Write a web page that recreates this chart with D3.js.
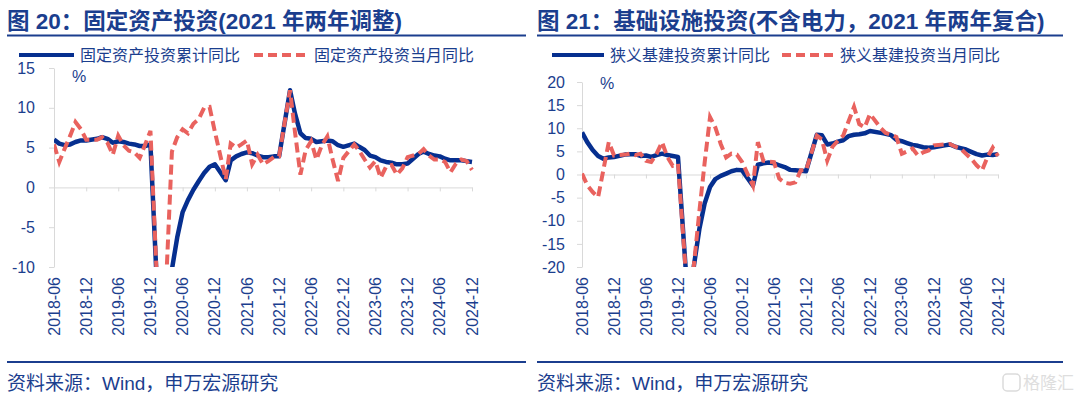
<!DOCTYPE html>
<html>
<head>
<meta charset="utf-8">
<script src="https://cdn.jsdelivr.net/npm/d3@7"></script>
<style>
  body { margin: 0; background: #fff; }
  svg { display: block; font-family: "Liberation Sans", "Noto Sans CJK SC", sans-serif; }
</style>
</head>
<body>
<svg id="chart" width="1080" height="398"></svg>
<script>
// months (no January data, Jan-Feb combined)
const dates = [
  "2018-06","2018-07","2018-08","2018-09","2018-10","2018-11","2018-12",
  "2019-02","2019-03","2019-04","2019-05","2019-06","2019-07","2019-08","2019-09","2019-10","2019-11","2019-12",
  "2020-02","2020-03","2020-04","2020-05","2020-06","2020-07","2020-08","2020-09","2020-10","2020-11","2020-12",
  "2021-02","2021-03","2021-04","2021-05","2021-06","2021-07","2021-08","2021-09","2021-10","2021-11","2021-12",
  "2022-02","2022-03","2022-04","2022-05","2022-06","2022-07","2022-08","2022-09","2022-10","2022-11","2022-12",
  "2023-02","2023-03","2023-04","2023-05","2023-06","2023-07","2023-08","2023-09","2023-10","2023-11","2023-12",
  "2024-02","2024-03","2024-04","2024-05","2024-06","2024-07","2024-08","2024-09","2024-10","2024-11","2024-12"
];

const xTicks = ["2018-06","2018-12","2019-06","2019-12","2020-06","2020-12","2021-06",
                "2021-12","2022-06","2022-12","2023-06","2023-12","2024-06","2024-12"];

// 图20 固定资产投资
const faiCum = [
  6.0, 5.5, 5.3, 5.4, 5.7, 5.9, 5.9,
  6.1, 6.3, 6.1, 5.6, 5.8, 5.7, 5.5, 5.4, 5.2, 5.2, 5.4,
  -24.5, -16.1, -10.3, -6.3, -3.1, -1.6, -0.3, 0.8, 1.8, 2.6, 2.9,
  0.9, 3.4, 3.9, 4.2, 4.4, 4.3, 4.0, 3.8, 3.8, 3.9, 3.9,
  12.2, 9.3, 6.8, 6.2, 6.1, 5.7, 5.8, 5.9, 5.8, 5.3, 5.1,
  5.5, 5.1, 4.7, 4.0, 3.8, 3.4, 3.2, 3.1, 2.9, 2.9, 3.0,
  4.2, 4.5, 4.2, 4.0, 3.9, 3.6, 3.4, 3.4, 3.4, 3.3, 3.2
];
const faiMonth = [
  5.4, 3.2, 4.9, 6.5, 8.2, 7.3, 6.0,
  6.0, 6.3, 5.6, 4.1, 6.5, 5.3, 4.6, 4.4, 3.7, 5.4, 7.1,
  -24.5, -11.0, 4.5, 6.3, 7.3, 6.8, 8.0, 8.6, 10.0, 10.1, 7.0,
  1.0, 5.5, 5.0, 5.4, 5.9, 2.9, 4.1, 2.9, 3.3, 3.8, 3.9,
  12.2, 7.0, 1.6, 4.7, 5.8, 3.5, 5.3, 6.4, 3.5, 0.8, 3.7,
  5.4, 4.6, 3.5, 2.5, 3.3, 1.2, 2.6, 2.8, 1.6, 2.4, 3.8,
  4.2, 4.8, 4.0, 3.5, 3.5, 3.2, 1.9, 3.0, 3.5, 3.3, 2.2
];

// 图21 基础设施投资(不含电力)
const infraCum = [
  9.1, 7.0, 5.3, 4.0, 3.4, 3.7, 3.8,
  4.3, 4.4, 4.4, 4.0, 4.1, 3.8, 4.2, 4.5, 4.2, 4.0, 3.8,
  -30.3, -19.7, -11.8, -6.3, -2.7, -1.0, -0.3, 0.2, 0.7, 1.0, 0.9,
  -2.4, 2.1, 2.4, 2.6, 2.4, 2.0, 1.6, 1.0, 0.9, 0.8, 0.7,
  8.6, 8.5, 6.5, 6.7, 7.1, 7.4, 8.3, 8.6, 8.7, 8.9, 9.4,
  9.0, 8.8, 8.5, 7.5, 7.2, 6.8, 6.4, 6.2, 5.9, 5.8, 5.9,
  6.3, 6.5, 6.0, 5.7, 5.4, 4.9, 4.4, 4.1, 4.3, 4.2, 4.4
];
const infraMonth = [
  0.2, -2.3, -3.8, -4.9, 1.0, 7.0, 4.1,
  4.3, 4.5, 4.2, 4.5, 3.0, 2.7, 4.5, 7.0, 3.8, 1.9, 2.3,
  -30.3, -19.5, -8.0, 2.5, 12.4, 10.2, 6.6, 3.7, 4.5, 4.3, 2.7,
  -2.4, 7.0, 3.0, 2.8, 2.7, -0.9, -1.8, -2.0, -1.7, 0.9, 0.9,
  8.4, 7.6, 3.0, 6.0, 7.3, 8.4, 11.5, 14.6, 10.9, 10.2, 13.1,
  10.0, 9.0, 8.6, 8.1, 4.5, 5.0, 5.6, 4.1, 4.8, 5.2, 6.3,
  6.5, 6.6, 6.0, 5.6, 4.5, 3.4, 2.0, 0.9, 3.7, 5.8, 4.0
];

const leftTicks = [-10, -5, 0, 5, 10, 15];
const rightTicks = [-20, -15, -10, -5, 0, 5, 10, 15, 20];

const BLUE = "#062f8f", RED = "#e9625e", TXT = "#1b3e8e", GRID = "#d9d9d9";
const parse = d3.timeParse("%Y-%m");
const svg = d3.select("#chart");

function panel(o) {
  const g = svg.append("g");

  // title + rule
  g.append("text")
    .attr("x", o.x0).attr("y", 29)
    .attr("font-size", 22.5).attr("font-weight", "bold")
    .attr("fill", TXT).text(o.title);
  g.append("line")
    .attr("x1", o.x0).attr("x2", o.x1).attr("y1", 35.5).attr("y2", 35.5)
    .attr("stroke", TXT).attr("stroke-width", 2);

  // legend
  g.append("line").attr("x1", o.leg[0]).attr("x2", o.leg[1]).attr("y1", 55).attr("y2", 55)
    .attr("stroke", BLUE).attr("stroke-width", 4);
  g.append("text").attr("x", o.leg[2]).attr("y", 55).attr("dy", "0.35em")
    .attr("font-size", 16).attr("fill", TXT).text(o.names[0]);
  g.append("line").attr("x1", o.leg[3]).attr("x2", o.leg[4]).attr("y1", 55).attr("y2", 55)
    .attr("stroke", RED).attr("stroke-width", 4).attr("stroke-dasharray", "9,5");
  g.append("text").attr("x", o.leg[5]).attr("y", 55).attr("dy", "0.35em")
    .attr("font-size", 16).attr("fill", TXT).text(o.names[1]);

  const x = d3.scaleTime().domain([parse("2018-06"), parse("2024-12")]).range(o.xr);
  const y = d3.scaleLinear().domain([o.yTicks[0], o.yTicks[o.yTicks.length - 1]]).range(o.yr);

  // y axis
  const ya = g.append("g")
    .attr("transform", `translate(${o.xr[0]},0)`)
    .call(d3.axisLeft(y).tickValues(o.yTicks).tickSize(5).tickSizeOuter(0)
      .tickPadding(o.yPad).tickFormat(d => String(d)));
  ya.select(".domain").attr("stroke", GRID);
  ya.selectAll(".tick line").attr("stroke", GRID);
  ya.selectAll(".tick text").attr("fill", TXT).attr("font-size", 16)
    .attr("font-family", "Liberation Sans, sans-serif");

  // x axis sits on zero
  const xa = g.append("g")
    .attr("transform", `translate(0,${y(0)})`)
    .call(d3.axisBottom(x).tickValues(xTicks.map(parse)).tickSize(4).tickSizeOuter(0).tickFormat(""));
  xa.select(".domain").attr("stroke", GRID);
  xa.selectAll(".tick line").attr("stroke", GRID);

  // x labels at the bottom, rotated
  g.selectAll("text.xl").data(xTicks).join("text")
    .attr("class", "xl")
    .attr("transform", d => `translate(${x(parse(d))},277) rotate(-90)`)
    .attr("text-anchor", "end").attr("dy", "0.35em")
    .attr("font-size", 16).attr("fill", TXT)
    .text(d => d);

  g.append("text").attr("x", o.pct[0]).attr("y", o.pct[1])
    .attr("font-size", 16).attr("fill", TXT).text("%");

  // lines, clipped to plot box
  g.append("clipPath").attr("id", o.id)
    .append("rect")
    .attr("x", o.xr[0]).attr("y", o.yr[1])
    .attr("width", o.xr[1] - o.xr[0] + 4).attr("height", o.yr[0] - o.yr[1]);

  const line = d3.line()
    .x((d, i) => x(parse(dates[i])))
    .y(d => y(d));

  const plot = g.append("g").attr("clip-path", `url(#${o.id})`);
  plot.append("path").datum(o.cum)
    .attr("d", line).attr("fill", "none")
    .attr("stroke", BLUE).attr("stroke-width", 4.5).attr("stroke-linejoin", "round");
  plot.append("path").datum(o.month)
    .attr("d", line).attr("fill", "none")
    .attr("stroke", RED).attr("stroke-width", 4).attr("stroke-dasharray", "10,5");

  // source
  g.append("line")
    .attr("x1", o.x0).attr("x2", o.x1).attr("y1", 362).attr("y2", 362)
    .attr("stroke", TXT).attr("stroke-width", 2);
  g.append("text").attr("x", o.x0).attr("y", 390)
    .attr("font-size", 19).attr("fill", TXT).text("资料来源：Wind，申万宏源研究");
}

panel({
  id: "clipL", x0: 7, x1: 526,
  title: "图 20：固定资产投资(2021 年两年调整)",
  names: ["固定资产投资累计同比", "固定资产投资当月同比"],
  leg: [19, 74, 80, 254, 307, 314],
  xr: [54, 472], yr: [267, 68], yTicks: leftTicks, yPad: 14,
  pct: [72, 82],
  cum: faiCum, month: faiMonth
});

panel({
  id: "clipR", x0: 537, x1: 1063,
  title: "图 21：基础设施投资(不含电力，2021 年两年复合)",
  names: ["狭义基建投资累计同比", "狭义基建投资当月同比"],
  leg: [552, 604, 610, 782, 835, 840],
  xr: [582, 998], yr: [267, 82], yTicks: rightTicks, yPad: 12,
  pct: [600, 89],
  cum: infraCum, month: infraMonth
});

// watermark
const wm = svg.append("g").attr("opacity", 0.55);
wm.append("rect").attr("x", 1003).attr("y", 374).attr("width", 17).attr("height", 17)
  .attr("rx", 4).attr("fill", "none").attr("stroke", "#bdbdbd").attr("stroke-width", 1.5);
wm.append("text").attr("x", 1023).attr("y", 389).attr("font-size", 17)
  .attr("fill", "#c4c4c4").text("格隆汇");
</script>
</body>
</html>
